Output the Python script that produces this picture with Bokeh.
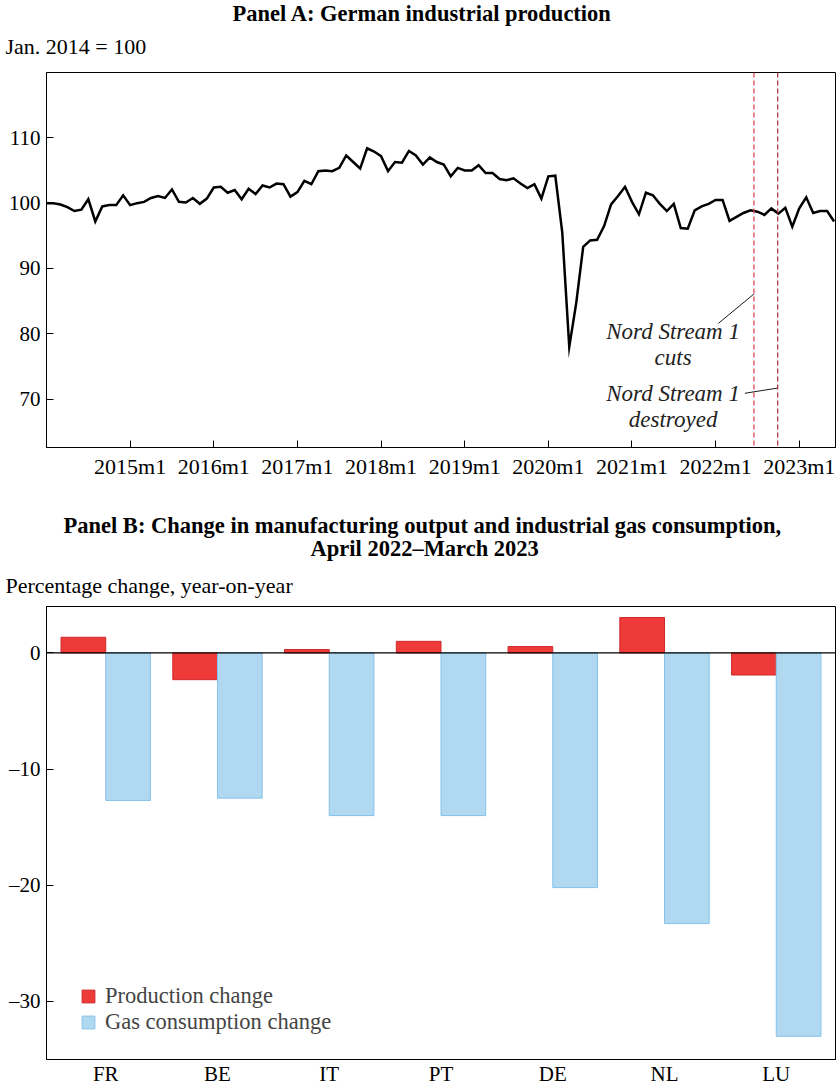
from bokeh.plotting import figure
from bokeh.layouts import column
from bokeh.models import (Range1d, FixedTicker, Span, Label, Legend, LegendItem,
                          ColumnDataSource, Title)
from bokeh.embed import file_html
from bokeh.resources import INLINE

FONT = "Liberation Serif"

# ---------------- Panel A data ----------------
ip_index = [
    100.0, 100.0, 99.8, 99.4, 98.8, 99.0, 100.6, 97.2, 99.5, 99.7, 99.7, 101.2,   # 2014
    99.7, 100.0, 100.2, 100.8, 101.1, 100.8, 102.1, 100.2, 100.1, 100.8, 99.9, 100.7,  # 2015
    102.4, 102.5, 101.6, 102.0, 100.6, 102.2, 101.4, 102.7, 102.4, 103.0, 102.9, 101.0,  # 2016
    101.7, 103.4, 102.9, 104.9, 105.0, 104.9, 105.4, 107.3, 106.3, 105.3, 108.4, 107.9,  # 2017
    107.2, 104.9, 106.3, 106.2, 108.0, 107.3, 105.9, 107.0, 106.3, 105.9, 104.1, 105.4,  # 2018
    105.0, 105.0, 105.8, 104.6, 104.6, 103.7, 103.5, 103.8, 103.0, 102.3, 102.9, 100.7,  # 2019
    104.1, 104.2, 95.5, 78.0, 84.7, 93.3, 94.3, 94.4, 96.5, 99.8, 101.1, 102.5,   # 2020
    100.2, 98.3, 101.6, 101.2, 99.9, 98.8, 99.9, 96.2, 96.1, 98.9, 99.5, 99.9,    # 2021
    100.5, 100.5, 97.3, 97.9, 98.5, 98.9, 98.7, 98.2, 99.2, 98.4, 99.3, 96.4,     # 2022
    99.2, 100.9, 98.5, 98.8, 98.8, 97.2,                                          # 2023
]
months = list(range(len(ip_index)))  # 0 = 2014m1
year_tick_labels = ["2015m1", "2016m1", "2017m1", "2018m1", "2019m1",
                    "2020m1", "2021m1", "2022m1", "2023m1"]
year_tick_pos = [12 * (i + 1) for i in range(len(year_tick_labels))]
ns_cuts_month = 101.5
ns_destroyed_month = 104.9

# ---------------- Panel B data ----------------
countries = ["FR", "BE", "IT", "PT", "DE", "NL", "LU"]
production_change = [1.35, -2.3, 0.3, 1.0, 0.55, 3.05, -1.9]
gas_change = [-12.7, -12.5, -14.0, -14.0, -20.2, -23.3, -33.0]


def style_axes(p, xsize="22px", ysize="21px"):
    for ax, size in ((p.xaxis[0], xsize), (p.yaxis[0], ysize)):
        ax.major_label_text_font = FONT
        ax.major_label_text_font_size = size
        ax.major_label_text_color = "black"
        ax.axis_line_color = "black"
        ax.major_tick_line_color = "black"
        ax.minor_tick_line_color = None
        ax.major_tick_in = 7
        ax.major_tick_out = 0
    p.xgrid.grid_line_color = None
    p.ygrid.grid_line_color = None
    p.outline_line_color = "black"
    p.outline_line_width = 1
    p.background_fill_color = "white"
    p.border_fill_color = "white"


def add_title(p, text, size, style="normal", standoff=4, offset=0):
    p.add_layout(Title(text=text, align="left", text_font=FONT, text_font_size=size,
                       text_font_style=style, text_color="black", standoff=standoff,
                       offset=offset), "above")


# ================= Panel A =================
pA = figure(width=836, height=500, output_backend="svg", toolbar_location=None,
            x_range=Range1d(0, 113.2), y_range=Range1d(62.6, 120),
            min_border_left=46, min_border_right=1, min_border_top=72,
            min_border_bottom=53)
style_axes(pA)
pA.xaxis.ticker = FixedTicker(ticks=year_tick_pos)
pA.xaxis.major_label_overrides = {t: l for t, l in zip(year_tick_pos, year_tick_labels)}
pA.xaxis.major_label_standoff = 6
pA.yaxis.ticker = FixedTicker(ticks=[70, 80, 90, 100, 110])
pA.yaxis.major_label_standoff = 6

pA.line(months, ip_index, line_color="black", line_width=2.5, line_join="miter")

pA.add_layout(Span(location=ns_cuts_month, dimension="height", line_color="#e0474c",
                   line_dash="5 3", line_width=1.3))
pA.add_layout(Span(location=ns_destroyed_month, dimension="height", line_color="#a8383c",
                   line_dash="5 3", line_width=1.3))

# annotation leader lines and texts
pA.segment(x0=[96.4, 100.2], y0=[81.6, 70.9], x1=[ns_cuts_month, ns_destroyed_month],
           y1=[86.1, 71.7], line_color="black", line_width=0.9)
for (mx, vy, t) in [(89.9, 80.4, "Nord Stream 1"), (89.9, 76.4, "cuts"),
                    (89.9, 70.8, "Nord Stream 1"), (89.9, 66.9, "destroyed")]:
    pA.add_layout(Label(x=mx, y=vy, text=t, text_font=FONT, text_font_size="23px",
                        text_font_style="italic", text_align="center",
                        text_baseline="middle", text_color="#222222"))

add_title(pA, "Jan. 2014 = 100", "22px", standoff=27, offset=-41)
add_title(pA, "Panel A: German industrial production", "22.5px", style="bold",
          standoff=-14, offset=186)

# ================= Panel B =================
pB = figure(width=836, height=588, output_backend="svg", toolbar_location=None,
            x_range=Range1d(-0.53, 6.53), y_range=Range1d(-35.0, 4.0),
            min_border_left=46, min_border_right=1, min_border_top=106,
            min_border_bottom=26)
style_axes(pB, xsize="21px", ysize="21px")
pB.xaxis.ticker = FixedTicker(ticks=list(range(len(countries))))
pB.xaxis.major_label_overrides = {i: c for i, c in enumerate(countries)}
pB.xaxis.major_tick_in = 0
pB.xaxis.major_label_standoff = 2
pB.yaxis.ticker = FixedTicker(ticks=[-30, -20, -10, 0])
pB.yaxis.major_label_overrides = {0: "0", -10: "\u201310", -20: "\u201320", -30: "\u201330"}
pB.yaxis.major_label_standoff = 6

xs = list(range(len(countries)))
src = ColumnDataSource(dict(
    xr=[x - 0.2 for x in xs], xb=[x + 0.2 for x in xs],
    prod=production_change, gas=gas_change))
r_prod = pB.vbar(x="xr", top="prod", bottom=0, width=0.4, source=src,
                 fill_color="#ef3a3a", line_color="#cf2a2e", line_width=1)
r_gas = pB.vbar(x="xb", top="gas", bottom=0, width=0.4, source=src,
                fill_color="#b0d8f0", line_color="#86c2ea", line_width=1)
pB.add_layout(Span(location=0, dimension="width", line_color="black", line_width=1.2))

legend = Legend(items=[LegendItem(label="Production change", renderers=[r_prod]),
                       LegendItem(label="Gas consumption change", renderers=[r_gas])],
                location=(34, 24), label_text_font=FONT, label_text_font_size="22.5px",
                glyph_width=16, glyph_height=16, label_height=20, spacing=0,
                padding=0, margin=0, border_line_color=None,
                background_fill_alpha=0, label_standoff=9)
pB.add_layout(legend, "center")

add_title(pB, "Percentage change, year-on-year", "22px", standoff=18, offset=-41)
add_title(pB, "April 2022\u2013March 2023", "22.5px", style="bold", standoff=2, offset=264)
add_title(pB, "Panel B: Change in manufacturing output and industrial gas consumption,",
          "22.5px", style="bold", standoff=-10, offset=17)

layout = column(pA, pB, spacing=0)
open("out.html", "w").write(file_html(layout, INLINE))
